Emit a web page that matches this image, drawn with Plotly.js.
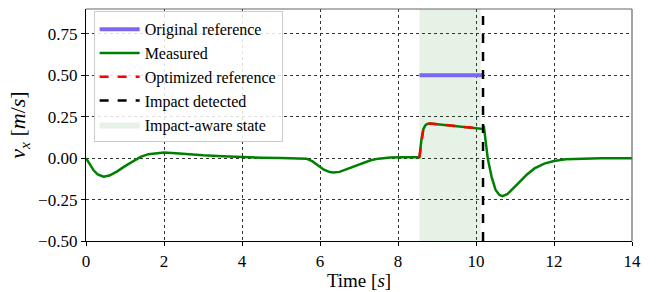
<!DOCTYPE html>
<html><head><meta charset="utf-8">
<script src="https://cdn.plot.ly/plotly-3.0.1.min.js"></script>
<style>html,body{margin:0;padding:0;background:#fff}#chart{width:665px;height:292px}</style>
</head><body><div id="chart"></div>
<script>
const measuredT = [0, 0.1, 0.2, 0.3, 0.45, 0.6, 0.8, 1.0, 1.2, 1.4, 1.6, 1.8, 2.0, 2.3, 2.6, 3.0, 3.5, 4.0, 4.5, 5.0, 5.5, 5.65, 5.8, 5.95, 6.1, 6.25, 6.35, 6.5, 6.7, 6.9, 7.1, 7.3, 7.5, 7.8, 8.1, 8.4, 8.55, 8.6, 8.65, 8.7, 8.75, 8.82, 9.0, 9.5, 10.0, 10.15, 10.18, 10.2, 10.25, 10.3, 10.4, 10.5, 10.6, 10.68, 10.8, 10.95, 11.1, 11.3, 11.5, 11.75, 12.0, 12.3, 12.7, 13.2, 14.0];
const measuredV = [0, -0.04, -0.075, -0.098, -0.112, -0.105, -0.08, -0.048, -0.018, 0.008, 0.024, 0.031, 0.034, 0.03, 0.024, 0.017, 0.011, 0.006, 0.003, 0.001, 0.0, -0.003, -0.018, -0.045, -0.07, -0.084, -0.087, -0.083, -0.066, -0.046, -0.028, -0.013, -0.003, 0.004, 0.006, 0.006, 0.006, 0.11, 0.175, 0.198, 0.206, 0.209, 0.205, 0.194, 0.182, 0.178, 0.176, 0.195, 0.09, 0.0, -0.113, -0.19, -0.222, -0.229, -0.218, -0.185, -0.148, -0.1, -0.062, -0.033, -0.017, -0.007, -0.002, 0.0, 0.0];
const optimizedT = [8.55, 8.6, 8.65, 8.7, 8.75, 8.82, 9.0, 9.5, 10.0, 10.15];
const optimizedV = [0.006, 0.11, 0.175, 0.198, 0.206, 0.209, 0.205, 0.194, 0.182, 0.178];
const originalT = [8.55, 10.2];
const originalV = [0.5, 0.5];
const impactT = 10.18;
const awareStart = 8.55, awareEnd = 10.12;
const yRange = [-0.5, 0.9];
const xRange = [0, 14];
const xTicks = [0, 2, 4, 6, 8, 10, 12, 14];
const yTicks = [-0.5, -0.25, 0, 0.25, 0.5, 0.75];

const font = "'Liberation Serif', 'Times New Roman', serif";
const traces = [
  {x:[awareStart, awareEnd, awareEnd, awareStart, awareStart], y:[yRange[0], yRange[0], yRange[1], yRange[1], yRange[0]],
   fill:'toself', fillcolor:'rgba(0,128,0,0.1)', line:{width:0}, mode:'lines', name:'Impact-aware state', legendrank:5, hoverinfo:'skip'},
  {x:originalT, y:originalV, mode:'lines', line:{color:'#7b68ee', width:4}, name:'Original reference', legendrank:1},
  {x:measuredT, y:measuredV, mode:'lines', line:{color:'green', width:2.5}, name:'Measured', legendrank:2},
  {x:optimizedT, y:optimizedV, mode:'lines', line:{color:'red', width:2.5, dash:'dash'}, name:'Optimized reference', legendrank:3},
  {x:[impactT, impactT], y:yRange, mode:'lines', line:{color:'black', width:2.5, dash:'dash'}, name:'Impact detected', legendrank:4}
];
const layout = {
  width:665, height:292,
  margin:{l:86, r:33, t:9, b:51},
  paper_bgcolor:'#fff', plot_bgcolor:'#fff',
  font:{family:font, size:17, color:'#000'},
  showlegend:true,
  legend:{x:0.014, y:0.99, xanchor:'left', yanchor:'top', bgcolor:'rgba(255,255,255,0.85)', bordercolor:'#cccccc', borderwidth:1,
          font:{family:font, size:16, color:'#000'}, tracegroupgap:0, itemwidth:40},
  xaxis:{range:xRange, tickvals:xTicks, ticktext:xTicks.map(String), ticks:'outside', ticklen:4, tickcolor:'#000',
         tickfont:{family:font, size:17, color:'#000'},
         showline:true, linecolor:'#000', linewidth:1.2, zeroline:false,
         showgrid:true, gridcolor:'#333', griddash:'dot', gridwidth:1,
         title:{text:'Time [<i>s</i>]', font:{family:font, size:19, color:'#000'}, standoff:4}},
  yaxis:{range:yRange, tickvals:yTicks, tickformat:'.2f', ticks:'outside', ticklen:4, tickcolor:'#000',
         tickfont:{family:font, size:17, color:'#000'},
         showline:true, linecolor:'#000', linewidth:1.2, zeroline:false,
         showgrid:true, gridcolor:'#333', griddash:'dot', gridwidth:1,
         title:{text:'<i>v</i><sub><i>x</i></sub> [<i>m</i>/<i>s</i>]', font:{family:font, size:22, color:'#000'}, standoff:6}},
  shapes:[
    {type:'line', xref:'paper', yref:'paper', x0:0, x1:1, y0:1, y1:1, line:{color:'#666', width:1.2}},
    {type:'line', xref:'paper', yref:'paper', x0:1, x1:1, y0:0, y1:1, line:{color:'#666', width:1.2}}
  ]
};
Plotly.newPlot('chart', traces, layout, {displayModeBar:false, staticPlot:true});
</script></body></html>
